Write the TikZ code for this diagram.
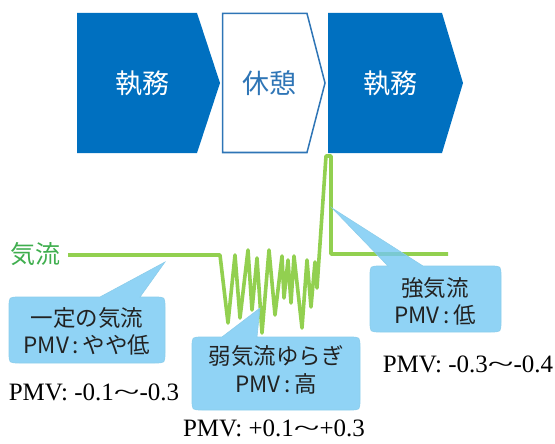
\documentclass[tikz,border=0pt]{standalone}
\usepackage{fontspec}
\setmainfont{Liberation Serif}
\newfontfamily\cjk{Noto Sans CJK JP}
\definecolor{chevblue}{HTML}{0070C0}
\definecolor{restblue}{HTML}{2E75B6}
\definecolor{wave}{HTML}{92D050}
\definecolor{labgreen}{HTML}{3FAE4E}
\definecolor{callblue}{HTML}{74C8F2}
\definecolor{callline}{HTML}{8CCDEB}
\definecolor{calltext}{HTML}{222222}
\newcommand\callbox[8]{%
  \path[callfill] ({#1+10},#4) .. controls (#1,#4) .. (#1,{#4-10}) -- (#1,{#2+10})
    .. controls (#1,#2) .. ({#1+10},#2) -- (#5,#2) -- (#7,#8) -- (#6,#2) -- ({#3-10},#2)
    .. controls (#3,#2) .. (#3,{#2+10}) -- (#3,{#4-10})
    .. controls (#3,#4) .. ({#3-10},#4) -- cycle;}
\newcommand\wt{\scalebox{1.9}[1]{\char`\~}}
\begin{document}
\begin{tikzpicture}[x=1pt,y=-1pt,
  chevtext/.style={font=\cjk\fontsize{27}{30}\selectfont, inner sep=0pt},
  calltxt/.style={font=\cjk\fontsize{22.5}{26}\selectfont, text=calltext, inner sep=0pt},
  pmvtxt/.style={font=\fontsize{25}{28}\selectfont, text=black, inner sep=0pt},
  callfill/.style={fill=callblue, fill opacity=0.8, draw=callline, line width=0.6pt},
  waveline/.style={draw=wave, line width=3.6pt, line join=round, line cap=butt}]
\useasboundingbox (0,0) rectangle (555,444);
% chevrons
\fill[chevblue] (77,13) -- (197,13) -- (220,83) -- (197,153) -- (77,153) -- cycle;
\draw[restblue, line width=1.5pt, fill=white] (222.5,13.5) -- (307,13.5) -- (325,83) -- (307,152.5) -- (222.5,152.5) -- cycle;
\fill[chevblue] (328,13) -- (442,13) -- (463,83) -- (442,153) -- (328,153) -- cycle;
\node[chevtext, text=white] (w1) at (142,83) {執務};
\node[chevtext, text=restblue] (r1) at (269,83) {休憩};
\node[chevtext, text=white] (w2) at (390,83) {執務};
% airflow label and wave
\node[font=\cjk\fontsize{25}{28}\selectfont, text=labgreen, inner sep=0pt] (lab) at (35,254) {気流};
\coordinate (ws) at (68,255);
\coordinate (we) at (448,254);
\path[waveline] (ws) -- (220,255) -- (228,323) -- (235,255) -- (240,318) -- (248,250)
  -- (252,310) -- (257,258) -- (262,333) -- (269,250) -- (275,315) -- (282,256)
  -- (284,298) -- (288,260) -- (291,303) -- (294,256) -- (302,328) -- (307,260)
  -- (311,307) -- (315,262) -- (317,288) -- (326,156) -- (331,156) -- (331,254) -- (we);
% callouts
\callbox{9}{297}{165}{363}{100}{140}{165}{262}
\callbox{192}{337}{360}{410}{222}{257}{260}{308}
\callbox{370}{266}{501}{332}{388}{423}{332}{208}
\node[calltxt] (c1a) at (87,318) {一定の気流};
\node[calltxt] (c1b) at (87,345) {PMV\,:\,やや低};
\node[calltxt] (c2a) at (276,356) {弱気流ゆらぎ};
\node[calltxt] (c2b) at (276,384) {PMV\,:\,高};
\node[calltxt] (c3a) at (435,288) {強気流};
\node[calltxt] (c3b) at (435,315) {PMV\,:\,低};
% PMV values
\node[pmvtxt] (p1) at (94,392) {PMV: -0.1\wt-0.3};
\node[pmvtxt] (p2) at (274,428) {PMV: +0.1\wt+0.3};
\node[pmvtxt] (p3) at (468,364) {PMV: -0.3\wt-0.4};
\end{tikzpicture}
\end{document}
